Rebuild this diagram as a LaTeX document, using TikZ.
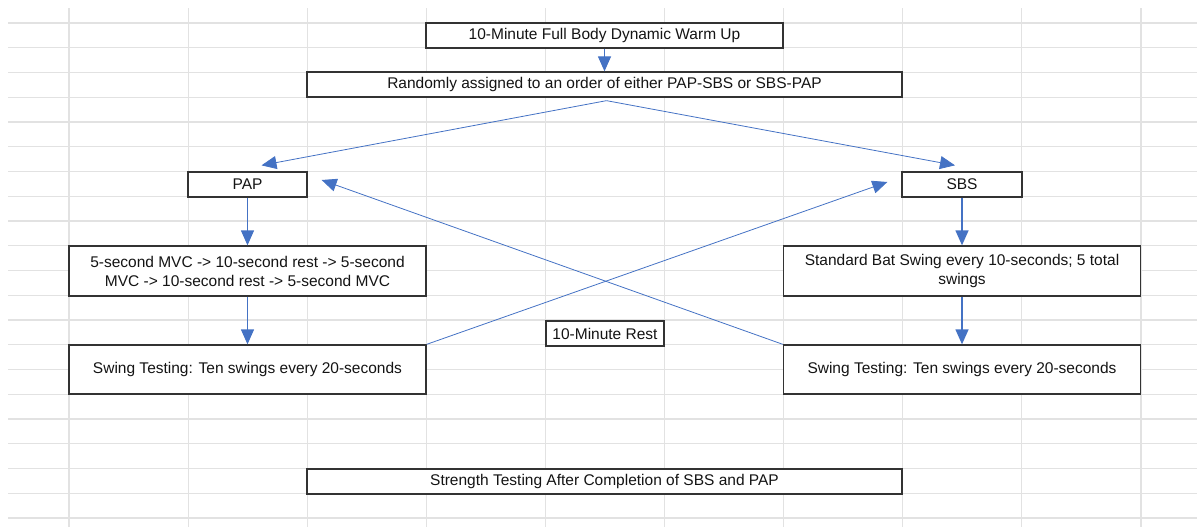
\documentclass[tikz,border=0pt]{standalone}
\usepackage{fontspec}
\setmainfont{Liberation Sans}
\usetikzlibrary{shapes, arrows, arrows.meta}
\definecolor{arrowblue}{HTML}{4472C4}
\definecolor{gridgray}{HTML}{E2E2E2}
\definecolor{boxgray}{HTML}{333333}
\tikzstyle{cell} = [rectangle, minimum height=25pt, inner sep=0pt, text centered, draw=boxgray, line width=1.3pt, fill=white, text=black!92, font=\fontsize{15.5}{19}\selectfont]
\tikzstyle{bigcell} = [cell, minimum width=357pt, minimum height=50pt, align=center]
\tikzstyle{edge} = [arrowblue, line width=1.3pt, -{Triangle[width=13pt,length=15pt]}]
\tikzstyle{cross} = [edge, line width=0.8pt]

\begin{document}
\begin{tikzpicture}[x=1pt, y=-1pt]
\useasboundingbox (0,0) rectangle (1197,527);

% sheet grid
\foreach \k in {0,...,20}
  \draw [gridgray, line width=1.2pt] (8,23+24.75*\k) -- (1197,23+24.75*\k);
\foreach \k in {0,...,9}
  \draw [gridgray, line width=1.2pt] (69+119.1*\k,8) -- (69+119.1*\k,527);

\node (0) [cell, minimum width=357pt] at (604.5,35.5) {10-Minute Full Body Dynamic Warm Up};
\node (1) [cell, minimum width=595pt] at (604.5,84.5) {Randomly assigned to an order of either PAP-SBS or SBS-PAP};
\node (2) [cell, minimum width=119pt] at (247.5,184.5) {PAP};
\node (3) [cell, minimum width=120pt] at (962,184.5) {SBS};
\node (4) [bigcell] at (247.5,271) {5-second MVC -> 10-second rest -> 5-second\\MVC -> 10-second rest -> 5-second MVC};
\node (5) [bigcell, minimum height=49pt] at (247.5,369.5) {Swing Testing: Ten swings every 20-seconds};
\node (6) [bigcell] at (962,271) {Standard Bat Swing every 10-seconds; 5 total\\swings};
\node (7) [bigcell, minimum height=49pt] at (962,369.5) {Swing Testing: Ten swings every 20-seconds};
\node (8) [cell, minimum width=118pt] at (605,333.5) {10-Minute Rest};
\node (9) [cell, minimum width=595pt] at (604.5,481.5) {Strength Testing After Completion of SBS and PAP};

\draw [edge] (0) -- (1);
\draw [cross] ([xshift=2pt,yshift=-3pt]1.south) -- ([xshift=14pt,yshift=6pt]2.north);
\draw [cross] ([xshift=2pt,yshift=-3pt]1.south) -- ([xshift=-7pt,yshift=6pt]3.north);
\draw [edge] (2) -- (4);
\draw [edge] (4) -- (5);
\draw [edge] (3) -- (6);
\draw [edge] (6) -- (7);
\draw [cross] (5.north east) -- ([xshift=-14pt,yshift=2.5pt]3.west);
\draw [cross] (7.north west) -- ([xshift=14pt,yshift=4.5pt]2.east);

\end{tikzpicture}
\end{document}
